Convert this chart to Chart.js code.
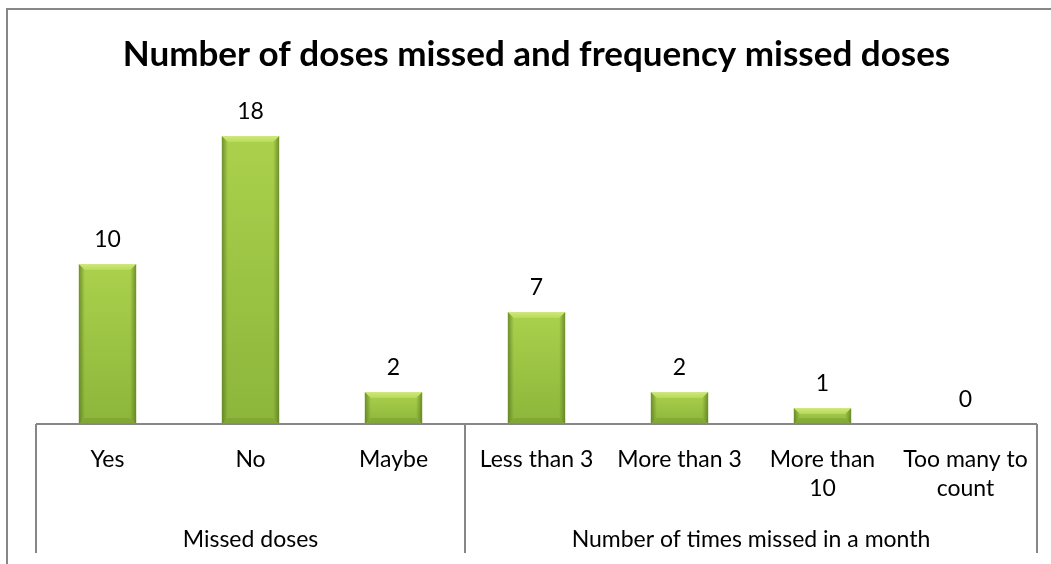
<!DOCTYPE html>
<html>
<head>
<meta charset="utf-8">
<script src="https://cdn.jsdelivr.net/npm/chart.js@4.4.1/dist/chart.umd.min.js"></script>
<style>
html,body{margin:0;padding:0;background:#fff;}
#wrap{width:1051px;height:564px;position:relative;}
</style>
</head>
<body>
<div id="wrap"><canvas id="c" width="1051" height="564"></canvas></div>
<script>
const titleText = 'Number of doses missed and frequency missed doses';
const categories = ['Yes', 'No', 'Maybe', 'Less than 3', 'More than 3', ['More than', '10'], ['Too many to', 'count']];
const values = [10, 18, 2, 7, 2, 1, 0];
const groupNames = ['Missed doses', 'Number of times missed in a month'];
const groupSizes = [3, 4];

const FONT = 'Lato, "Open Sans", sans-serif';
const LINE = '#878787';
const TXT = 23;

const framePlugin = {
  id: 'frame',
  beforeDraw(chart) {
    const ctx = chart.ctx;
    ctx.save();
    ctx.fillStyle = '#fff';
    ctx.fillRect(0, 0, chart.width, chart.height);
    ctx.strokeStyle = LINE;
    ctx.lineWidth = 2;
    ctx.beginPath();
    ctx.moveTo(7, chart.height + 5);
    ctx.lineTo(7, 9);
    ctx.lineTo(chart.width + 5, 9);
    ctx.stroke();
    ctx.restore();
  }
};

const axisPlugin = {
  id: 'axisGroups',
  afterDatasetsDraw(chart) {
    const ctx = chart.ctx;
    const x = chart.scales.x;
    const area = chart.chartArea;
    const half = (x.getPixelForValue(1) - x.getPixelForValue(0)) / 2;
    const bottom = 553;
    ctx.save();
    ctx.strokeStyle = LINE;
    ctx.lineWidth = 2;
    ctx.beginPath();
    ctx.moveTo(area.left, area.bottom);
    ctx.lineTo(area.right, area.bottom);
    let idx = 0;
    const bounds = [0];
    groupSizes.forEach(s => { idx += s; bounds.push(idx); });
    bounds.forEach(b => {
      const px = Math.round(x.getPixelForValue(b) - half);
      ctx.moveTo(px, area.bottom);
      ctx.lineTo(px, bottom);
    });
    ctx.stroke();
    ctx.fillStyle = '#000';
    ctx.font = TXT + 'px ' + FONT;
    ctx.textAlign = 'center';
    ctx.textBaseline = 'middle';
    for (let g = 0; g < groupNames.length; g++) {
      const l = x.getPixelForValue(bounds[g]) - half;
      const r = x.getPixelForValue(bounds[g + 1]) - half;
      ctx.fillText(groupNames[g], (l + r) / 2, 540);
    }
    ctx.restore();
  }
};

const bevelPlugin = {
  id: 'bevel',
  afterDatasetsDraw(chart) {
    const ctx = chart.ctx;
    const meta = chart.getDatasetMeta(0);
    ctx.save();
    meta.data.forEach((bar, i) => {
      const left = bar.x - bar.width / 2;
      const right = bar.x + bar.width / 2;
      const top = Math.min(bar.y, bar.base);
      const bottom = Math.max(bar.y, bar.base);
      const h = bottom - top;
      const w = right - left;
      if (h < 1) return;
      const g = ctx.createLinearGradient(0, top, 0, bottom);
      g.addColorStop(0, '#abd14c');
      g.addColorStop(1, '#8cb63b');
      ctx.fillStyle = g;
      ctx.fillRect(left, top, w, h);
      const bev = Math.min(6, h / 2);
      const gl = ctx.createLinearGradient(left, 0, left + bev, 0);
      gl.addColorStop(0, 'rgba(85,115,30,0.7)');
      gl.addColorStop(1, 'rgba(85,115,30,0)');
      ctx.fillStyle = gl;
      ctx.beginPath();
      ctx.moveTo(left, top); ctx.lineTo(left + bev, top + bev); ctx.lineTo(left + bev, bottom - bev); ctx.lineTo(left, bottom); ctx.closePath();
      ctx.fill();
      const gr = ctx.createLinearGradient(right, 0, right - bev, 0);
      gr.addColorStop(0, 'rgba(85,115,30,0.7)');
      gr.addColorStop(1, 'rgba(85,115,30,0)');
      ctx.fillStyle = gr;
      ctx.beginPath();
      ctx.moveTo(right, top); ctx.lineTo(right - bev, top + bev); ctx.lineTo(right - bev, bottom - bev); ctx.lineTo(right, bottom); ctx.closePath();
      ctx.fill();
      const gt = ctx.createLinearGradient(0, top, 0, top + bev);
      gt.addColorStop(0, 'rgba(210,234,130,0.95)');
      gt.addColorStop(1, 'rgba(195,225,105,0.6)');
      ctx.fillStyle = gt;
      ctx.beginPath();
      ctx.moveTo(left, top); ctx.lineTo(right, top); ctx.lineTo(right - bev, top + bev); ctx.lineTo(left + bev, top + bev); ctx.closePath();
      ctx.fill();
      ctx.fillStyle = 'rgba(95,125,35,0.25)';
      ctx.beginPath();
      ctx.moveTo(left, bottom); ctx.lineTo(right, bottom); ctx.lineTo(right - bev, bottom - bev); ctx.lineTo(left + bev, bottom - bev); ctx.closePath();
      ctx.fill();
    });
    ctx.restore();
  }
};

const labelPlugin = {
  id: 'valueLabels',
  afterDatasetsDraw(chart) {
    const ctx = chart.ctx;
    const meta = chart.getDatasetMeta(0);
    ctx.save();
    ctx.fillStyle = '#000';
    ctx.font = TXT + 'px ' + FONT;
    ctx.textAlign = 'center';
    ctx.textBaseline = 'middle';
    meta.data.forEach((bar, i) => {
      ctx.fillText(String(values[i]), bar.x, bar.y - 24);
    });
    ctx.restore();
  }
};

new Chart(document.getElementById('c'), {
  type: 'bar',
  data: {
    labels: categories,
    datasets: [{
      data: values,
      backgroundColor: '#9cc346',
      borderWidth: 0,
      barPercentage: 0.8,
      categoryPercentage: 0.5
    }]
  },
  options: {
    responsive: false,
    animation: false,
    events: [],
    layout: { padding: { left: 36, right: 14, top: 0, bottom: 0 } },
    plugins: {
      legend: { display: false },
      tooltip: { enabled: false },
      title: {
        display: true,
        text: titleText,
        color: '#000',
        font: { family: FONT, size: 35, weight: 'bold', lineHeight: 1.2 },
        padding: { top: 34, bottom: 28 }
      }
    },
    scales: {
      y: { display: false, min: 0, max: 20 },
      x: {
        grid: { display: false, drawTicks: false },
        border: { display: false },
        afterFit(scale) { scale.height = 140; },
        ticks: {
          color: '#000',
          font: { family: FONT, size: TXT, lineHeight: 1.22 },
          padding: 22,
          maxRotation: 0,
          autoSkip: false
        }
      }
    }
  },
  plugins: [framePlugin, bevelPlugin, labelPlugin, axisPlugin]
});
</script>
</body>
</html>
